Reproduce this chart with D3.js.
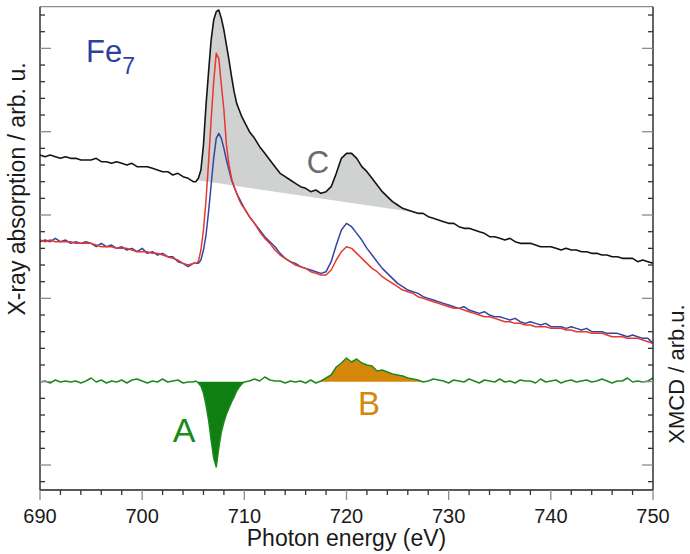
<!DOCTYPE html>
<html>
<head>
<meta charset="utf-8">
<script src="https://cdn.jsdelivr.net/npm/d3@7"></script>
<style>
  html, body { margin: 0; padding: 0; background: #fff; }
  svg { display: block; font-family: "Liberation Sans", Arial, sans-serif; }
</style>
</head>
<body>
<svg id="chart" width="690" height="554"></svg>
<script>
// Photon energy grid (eV): finer sampling across the L3 white line
const energy = [].concat(
  d3.range(690, 705, 0.5),
  d3.range(705, 710, 0.25),
  d3.range(710, 750.001, 0.5)
);

// Isotropic XAS (sum), offset upwards
const xasSum = [
  186,185,186,185,184,185,184,184,183,183, 183,184,182,182,181,182,181,180,181,179,
  179,179,178,177,176,176,174,175,173,172,
  170,170,172,177,192,216,236,255,267,272,273,268,261,252,243,233,224,217,213,209,
  206,200,196,191,187,183,179,175,173,171, 169,167,166,164,165,163,164,167,175,184,
  187,187,184,179,176,172,168,164,161,158, 156,154,153,152,151,151,149,148,147,146,
  145,145,143,142,142,141,140,139,137,137, 136,135,136,134,133,133,133,132,131,131,
  131,130,129,130,129,129,128,128,127,127, 126,126,125,125,124,124,124,122,123,122,
  121
];

// Polarised XAS, helicity (+)
const xasPlus = [
  134,135,134,136,134,135,133,134,133,134, 133,131,133,131,132,130,131,129,130,128,
  130,127,128,126,127,125,125,122,121,119,
  121,121,121,123,129,138,152,168,184,196,199,196,190,183,177,171,167,163,160,157,
  154,149,145,141,137,134,131,127,124,122, 121,119,118,117,116,115,116,122,132,141,
  145,143,139,135,130,126,122,118,115,112, 109,107,105,104,103,101,100,99,98,97,
  96,95,94,95,93,92,91,92,90,89, 89,88,87,88,86,85,86,85,84,85,
  83,83,83,82,83,82,81,82,80,80, 80,79,79,79,78,77,78,77,76,76,
  73
];

// Polarised XAS, helicity (-)
const xasMinus = [
  135,134,135,134,134,134,134,133,133,133, 133,132,131,131,131,130,130,130,129,128,
  128,128,127,127,126,125,124,123,121,120,
  121,121,122,129,141,159,182,207,230,247,244,228,213,192,180,172,167,163,159,156,
  154,149,145,140,136,133,129,126,124,122, 120,119,118,116,115,114,114,117,123,128,
  131,130,127,124,121,118,116,113,111,109, 107,105,104,103,101,100,99,98,97,96,
  95,94,94,93,92,91,90,89,89,88, 87,86,86,85,85,84,84,83,83,83,
  82,82,82,81,81,80,80,80,79,79, 79,78,77,77,77,76,76,76,75,74,
  73
];

// XMCD difference, plotted around its own zero line
const xmcd = [
  49.8,50.4,49.2,51,49.8,50.4,49.8,50.4,49.2,50.4, 52.2,49.8,51,49.2,50.4,49.8,51,49.2,51,51.6,
  50.4,49.2,50.4,49.8,51.6,49.8,50.4,51,49.2,49.8,
  49.8,50.4,49.2,47.4,43.2,36,27,15,4.2,-1.2,10.2,19.8,25.8,30.6,34.2,37.8,40.8,44.4,46.8,48.6,
  49.8,50.4,51.6,50.4,52.8,51,50.4,50.4,49.2,50.4, 49.8,50.4,49.2,51,49.2,50.4,52.2,54,58.8,61.2,
  64.2,61.8,63.6,61.2,60,59.4,56.4,57,55.8,54.6, 54,53.4,52.2,51.6,51,49.8,50.4,51.6,51,50.4,
  49.2,51,50.4,49.8,51.6,50.4,49.2,51,50.4,49.8, 51.6,49.8,50.4,49.2,51,50.4,50.4,49.2,51.6,49.8,
  50.4,51,49.2,50.4,51,49.8,50.4,51,49.8,50.4, 51.6,50.4,49.2,50.4,50.4,52.2,49.8,50.4,49.8,50.4,
  52.2
];
const xmcdZero = 50;

// Linear step-like background under the L3/L2 edges (region C)
const edgeBgEnergy = [705.3, 727.3];
const edgeBgValue = [171, 151];

// Integration windows of the XMCD peaks A (L3) and B (L2)
const peakAWindow = [705.4, 710.1];
const peakBWindow = [717.4, 727.6];

// Axes
const xTicks = d3.range(690, 751, 2);
const xLabels = [690, 700, 710, 720, 730, 740, 750];
const yTicks = d3.range(-10, 275, 10);

const svg = d3.select("#chart");
const m = { left: 40, right: 653, top: 6.7, bottom: 490 };

const x = d3.scaleLinear().domain([690, 750]).range([m.left, m.right]);
const y = d3.scaleLinear().domain([-15, 275]).range([m.bottom, m.top]);

const interp = (xs, ys, e) => {
  const i = Math.min(Math.max(d3.bisectLeft(xs, e), 1), xs.length - 1);
  const t = (e - xs[i - 1]) / (xs[i] - xs[i - 1]);
  return ys[i - 1] + t * (ys[i] - ys[i - 1]);
};

const pts = vals => energy.map((e, i) => [e, vals[i]]);
const windowPts = (vals, w) => {
  const inner = energy.map((e, i) => [e, vals[i]]).filter(d => d[0] > w[0] && d[0] < w[1]);
  return [[w[0], interp(energy, vals, w[0])], ...inner, [w[1], interp(energy, vals, w[1])]];
};

const line = d3.line().x(d => x(d[0])).y(d => y(d[1]));

// Region C: between the isotropic spectrum and the edge background
const bg = d3.scaleLinear().domain(edgeBgEnergy).range(edgeBgValue);
svg.append("path")
  .datum(windowPts(xasSum, edgeBgEnergy))
  .attr("fill", "#d0d2d2")
  .attr("d", d3.area().x(d => x(d[0])).y0(d => y(bg(d[0]))).y1(d => y(d[1])));

svg.append("path").datum(pts(xasSum))
  .attr("fill", "none").attr("stroke", "#141414").attr("stroke-width", 1.6)
  .attr("stroke-linejoin", "round").attr("d", line);

svg.append("path").datum(pts(xasPlus))
  .attr("fill", "none").attr("stroke", "#3445a3").attr("stroke-width", 1.5)
  .attr("stroke-linejoin", "round").attr("d", line);

svg.append("path").datum(pts(xasMinus))
  .attr("fill", "none").attr("stroke", "#e8372c").attr("stroke-width", 1.5)
  .attr("stroke-linejoin", "round").attr("d", line);

// XMCD peak areas
svg.append("path")
  .datum(windowPts(xmcd, peakAWindow))
  .attr("fill", "#0f7f12")
  .attr("d", d3.area().x(d => x(d[0])).y0(y(xmcdZero)).y1(d => y(Math.min(d[1], xmcdZero))));
svg.append("path")
  .datum(windowPts(xmcd, peakBWindow))
  .attr("fill", "#d4870b")
  .attr("d", d3.area().x(d => x(d[0])).y0(y(xmcdZero)).y1(d => y(Math.max(d[1], xmcdZero))));

svg.append("path").datum(pts(xmcd))
  .attr("fill", "none").attr("stroke", "#1d8a1d").attr("stroke-width", 1.5)
  .attr("stroke-linejoin", "round").attr("d", line);

// Frame
const frame = svg.append("g");
frame.append("line").attr("x1", m.left).attr("x2", m.right).attr("y1", m.top).attr("y2", m.top)
  .attr("stroke", "#8c8c8c").attr("stroke-width", 1.3);
frame.append("line").attr("x1", m.left).attr("x2", m.right).attr("y1", m.bottom).attr("y2", m.bottom)
  .attr("stroke", "#222").attr("stroke-width", 1.4);
frame.append("line").attr("x1", m.left).attr("x2", m.left).attr("y1", m.top).attr("y2", m.bottom)
  .attr("stroke", "#222").attr("stroke-width", 1.4);
frame.append("line").attr("x1", m.right).attr("x2", m.right).attr("y1", m.top).attr("y2", m.bottom)
  .attr("stroke", "#222").attr("stroke-width", 1.4);

// Bottom ticks (outward)
const isMajorX = v => Math.abs(v % 10) < 1e-6;
frame.selectAll(".xt").data(xTicks).join("line")
  .attr("x1", d => x(d)).attr("x2", d => x(d))
  .attr("y1", m.bottom).attr("y2", d => m.bottom + (isMajorX(d) ? 10 : 5))
  .attr("stroke", d => isMajorX(d) ? "#8c8c8c" : "#333").attr("stroke-width", 1.3);

// Left and right ticks (inward)
const isMajorY = v => Math.abs(v % 50) < 1e-6;
frame.selectAll(".yl").data(yTicks).join("line")
  .attr("x1", m.left).attr("x2", d => m.left + (isMajorY(d) ? 11 : 5))
  .attr("y1", d => y(d)).attr("y2", d => y(d))
  .attr("stroke", d => isMajorY(d) ? "#8c8c8c" : "#333").attr("stroke-width", 1.3);
frame.selectAll(".yr").data(yTicks).join("line")
  .attr("x1", m.right).attr("x2", d => m.right - (isMajorY(d) ? 11 : 5))
  .attr("y1", d => y(d)).attr("y2", d => y(d))
  .attr("stroke", d => isMajorY(d) ? "#8c8c8c" : "#333").attr("stroke-width", 1.3);

// Tick labels
svg.selectAll(".xl").data(xLabels).join("text")
  .attr("x", d => x(d)).attr("y", 523)
  .attr("text-anchor", "middle").attr("font-size", 20).attr("fill", "#1a1a1a")
  .text(d => d);

// Axis titles
svg.append("text").attr("x", 346.5).attr("y", 546)
  .attr("text-anchor", "middle").attr("font-size", 23).attr("fill", "#1a1a1a")
  .text("Photon energy (eV)");
svg.append("text")
  .attr("transform", "translate(25,189) rotate(-90)")
  .attr("text-anchor", "middle").attr("font-size", 23).attr("fill", "#1a1a1a")
  .text("X-ray absorption / arb. u.");
svg.append("text")
  .attr("transform", "translate(684,374) rotate(-90)")
  .attr("text-anchor", "middle").attr("font-size", 22).attr("fill", "#1a1a1a")
  .text("XMCD / arb.u.");

// Annotations
const fe = svg.append("text").attr("x", 86).attr("y", 62)
  .attr("font-size", 31).attr("fill", "#2f3f9c");
fe.append("tspan").text("Fe");
fe.append("tspan").attr("font-size", 23).attr("dy", 12).text("7");

svg.append("text").attr("x", 318).attr("y", 173).attr("text-anchor", "middle")
  .attr("font-size", 31).attr("fill", "#6b6b6b").text("C");
svg.append("text").attr("x", 184).attr("y", 442).attr("text-anchor", "middle")
  .attr("font-size", 34).attr("fill", "#1a8a1a").text("A");
svg.append("text").attr("x", 369).attr("y", 415).attr("text-anchor", "middle")
  .attr("font-size", 33).attr("fill", "#d4870b").text("B");
</script>
</body>
</html>
